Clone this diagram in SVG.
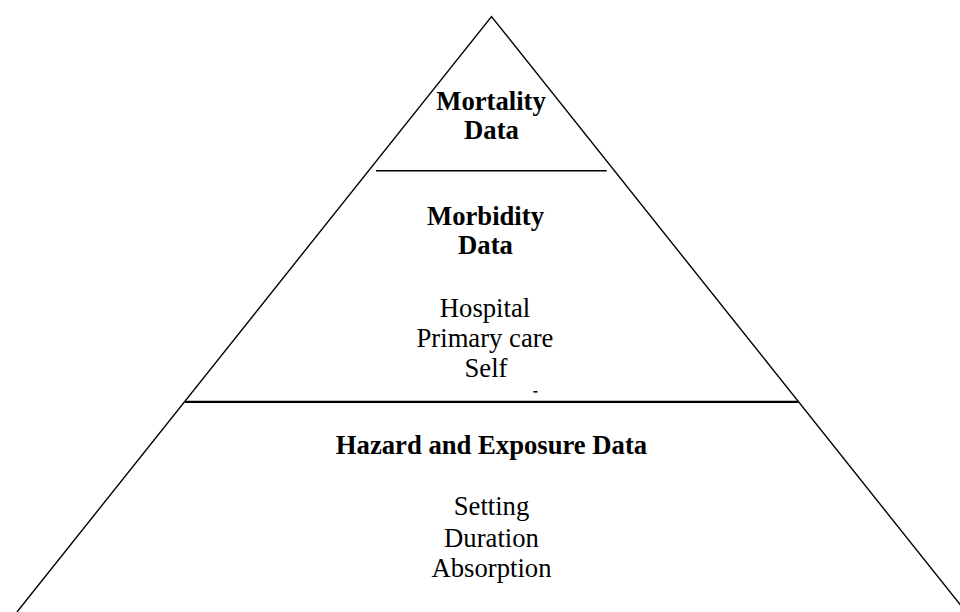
<svg xmlns="http://www.w3.org/2000/svg" width="960" height="612" viewBox="0 0 960 612">
  <style>
    .edge { fill: none; stroke: #000; stroke-width: 1.4; }
    .tier { stroke: #000; }
    .head { font-family: "Liberation Serif", "Times New Roman", serif; font-size: 26.67px; font-weight: bold; fill: #000; text-anchor: middle; }
    .item { font-family: "Liberation Serif", "Times New Roman", serif; font-size: 26.67px; fill: #000; text-anchor: middle; }
  </style>
  <rect width="960" height="612" fill="#fff"/>

  <!-- pyramid outline and tier dividers -->
  <g id="pyramid">
    <polyline class="edge" points="17,612 491.5,16.5 966,612"/>
    <line class="tier" x1="376" y1="170.8" x2="606.7" y2="170.8" stroke-width="1.6"/>
    <line class="tier" x1="185" y1="401.8" x2="798" y2="401.8" stroke-width="2.2"/>
  </g>

  <!-- top tier -->
  <g id="mortality">
    <text class="head" x="491" y="110">Mortality</text>
    <text class="head" x="491.5" y="139.3">Data</text>
  </g>

  <!-- middle tier -->
  <g id="morbidity">
    <text class="head" x="485.5" y="225">Morbidity</text>
    <text class="head" x="485.5" y="254">Data</text>
    <text class="item" x="485" y="316.5">Hospital</text>
    <text class="item" x="485" y="346.5">Primary care</text>
    <text class="item" x="486" y="376.5">Self</text>
    <rect x="533.5" y="391" width="4" height="1.6" fill="#000"/>
  </g>

  <!-- base tier -->
  <g id="hazard">
    <text class="head" x="491.5" y="453.5">Hazard and Exposure Data</text>
    <text class="item" x="491.5" y="515">Setting</text>
    <text class="item" x="491.5" y="546.5">Duration</text>
    <text class="item" x="491.5" y="577">Absorption</text>
  </g>
</svg>
